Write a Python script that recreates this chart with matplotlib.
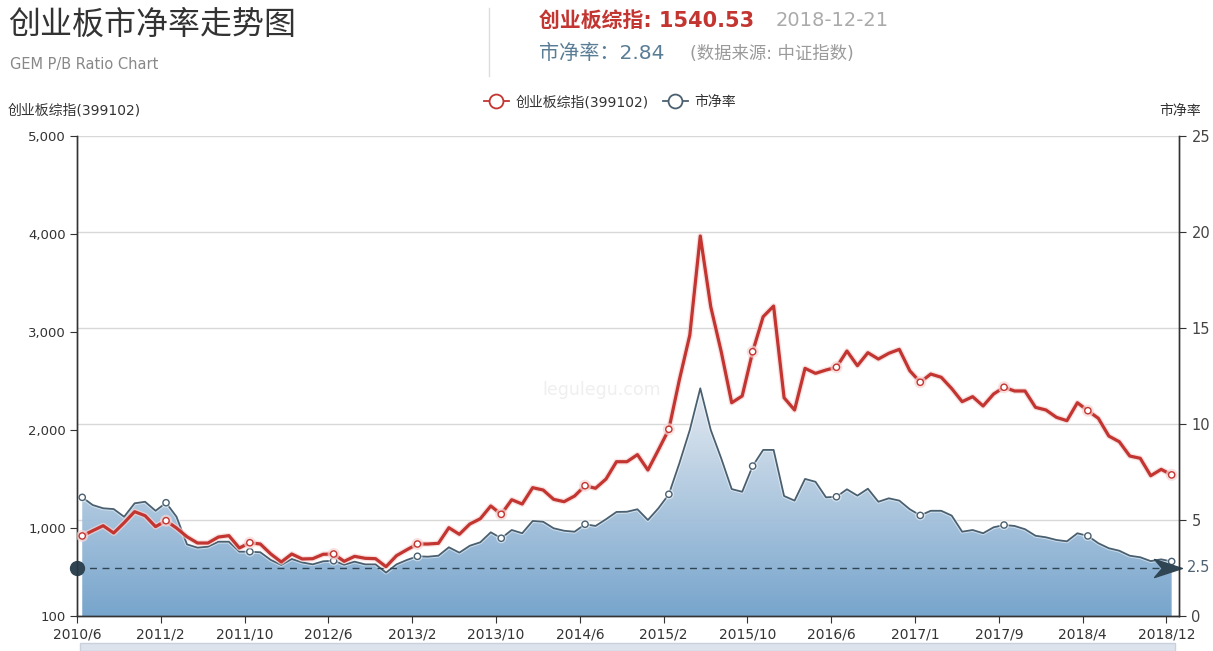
import numpy as np
import matplotlib
matplotlib.use("Agg")
import matplotlib.pyplot as plt
import matplotlib.patheffects as pe
from matplotlib.colors import LinearSegmentedColormap
from matplotlib.lines import Line2D
from matplotlib.path import Path
from matplotlib.patches import Rectangle
import matplotlib.transforms as mtransforms

plt.rcParams['font.family'] = ['DejaVu Sans', 'Noto Sans CJK SC']

# monthly closes of the GEM composite index (399102), 2010/6 .. 2018/12
gem_index = [917, 971, 1022, 947, 1052, 1165, 1124, 1012, 1073, 998,
             909, 845, 845, 906, 920, 794, 848, 835, 733, 651,
             733, 682, 685, 730, 733, 658, 709, 689, 685, 603,
             716, 777, 835, 835, 842, 1001, 934, 1039, 1093, 1223,
             1138, 1287, 1243, 1410, 1386, 1291, 1267, 1325, 1430, 1404,
             1498, 1675, 1675, 1747, 1590, 1795, 2006, 2509, 2968, 3979,
             3257, 2798, 2277, 2346, 2798, 3155, 3264, 2328, 2203, 2628,
             2577, 2611, 2639, 2805, 2655, 2788, 2723, 2782, 2822, 2604,
             2486, 2570, 2537, 2422, 2288, 2339, 2244, 2366, 2435, 2397,
             2397, 2230, 2203, 2128, 2094, 2277, 2196, 2118, 1937, 1879,
             1733, 1710, 1532, 1597, 1540.53]

# price-to-book ratio
pb_ratio = [6.18, 5.78, 5.61, 5.57, 5.17, 5.87, 5.95, 5.48, 5.90, 5.17,
            3.73, 3.56, 3.61, 3.87, 3.87, 3.35, 3.35, 3.32, 2.92, 2.66,
            2.97, 2.79, 2.69, 2.85, 2.88, 2.67, 2.83, 2.69, 2.69, 2.26,
            2.69, 2.92, 3.11, 3.09, 3.14, 3.58, 3.30, 3.66, 3.84, 4.36,
            4.05, 4.48, 4.31, 4.95, 4.91, 4.57, 4.44, 4.39, 4.78, 4.69,
            5.04, 5.42, 5.43, 5.56, 5.00, 5.61, 6.34, 7.95, 9.69, 11.86,
            9.69, 8.21, 6.61, 6.47, 7.81, 8.65, 8.65, 6.25, 6.01, 7.14,
            6.99, 6.18, 6.21, 6.60, 6.27, 6.63, 5.95, 6.13, 6.01, 5.56,
            5.24, 5.48, 5.48, 5.23, 4.39, 4.48, 4.31, 4.62, 4.74, 4.69,
            4.52, 4.18, 4.10, 3.96, 3.89, 4.31, 4.17, 3.79, 3.53, 3.40,
            3.14, 3.06, 2.86, 2.95, 2.84]

tick_labels = ['2010/6', '2011/2', '2011/10', '2012/6', '2013/2', '2013/10',
               '2014/6', '2015/2', '2015/10', '2016/6', '2017/1', '2017/9',
               '2018/4', '2018/12']
left_ticks = [100, 1000, 2000, 3000, 4000, 5000]
right_ticks = [0, 5, 10, 15, 20, 25]
pb_mark = 2.5

RED = '#c23531'
SLATE = '#4a6070'
W, H = 1213, 651


def fx(x):
    return x / W


def fy(y):
    return 1 - y / H


fig = plt.figure(figsize=(W / 100, H / 100), dpi=100)
fig.patch.set_facecolor('white')

ax = fig.add_axes([fx(77), fy(616), (1179 - 77) / W, 480 / H])
ax2 = ax.twinx()
ax.set_zorder(ax2.get_zorder() + 1)
ax.patch.set_visible(False)

x = np.arange(len(gem_index))
pb = np.array(pb_ratio)

# area with vertical gradient, clipped to the P/B polygon
poly = ax2.fill_between(x, pb, 0, facecolor='none', edgecolor='none')
cmap = LinearSegmentedColormap.from_list('pbfill', ['#70a0ca', '#e4eaf1'])
grad = np.linspace(0, 1, 256).reshape(-1, 1)
im = ax2.imshow(grad, extent=[x[0], x[-1], 0, pb.max()], origin='lower',
                cmap=cmap, aspect='auto', zorder=1, alpha=0.95)
im.set_clip_path(poly.get_paths()[0], transform=ax2.transData)

ax2.plot(x, pb, color=SLATE, lw=1.3, zorder=3,
         marker='o', markevery=8, markersize=4.5, markerfacecolor='white',
         markeredgecolor=SLATE, markeredgewidth=1.0,
         path_effects=[pe.Stroke(linewidth=2.8, foreground='white', alpha=0.5), pe.Normal()])

# mark line at P/B 2.5
blend = mtransforms.blended_transform_factory(ax2.transAxes, ax2.transData)
ax2.plot([0, 0.985], [pb_mark, pb_mark], transform=blend, color='#2f4554',
         lw=1, dashes=(5, 4), zorder=4, clip_on=False)
ax2.plot([0], [pb_mark], transform=blend, marker='o', markersize=10,
         color='#2f4554', zorder=5, clip_on=False)
arrow = Path([(1, 0), (-1, 0.65), (-0.45, 0), (-1, -0.65), (1, 0)],
             [Path.MOVETO, Path.LINETO, Path.LINETO, Path.LINETO, Path.CLOSEPOLY])
ax2.plot([0.99], [pb_mark], transform=blend, marker=arrow, markersize=20,
         color='#2f4554', zorder=5, clip_on=False)
ax2.text(1.0075, pb_mark, '2.5', transform=blend, va='center', ha='left',
         fontsize=10.5, color='#4f6272')

ax.plot(x, gem_index, color=RED, lw=2.3, zorder=6,
        marker='o', markevery=8, markersize=4.5, markerfacecolor='white',
        markeredgecolor=RED, markeredgewidth=1.0,
        path_effects=[pe.Stroke(linewidth=4.2, foreground='#f6d6d5', alpha=0.7), pe.Normal()])

ax.text(0.476, 0.471, 'legulegu.com', transform=ax.transAxes, fontsize=12.5,
        color='#efefef', ha='center', va='center', zorder=0)

# axes styling
ax.set_xlim(-0.5, 104.7)
ax.set_ylim(100, 5000)
ax2.set_ylim(0, 25)
ax2.set_xlim(-0.5, 104.7)

ax.set_yticks(left_ticks)
ax.set_yticklabels([f'{v:,}' for v in left_ticks])
ax2.set_yticks(right_ticks)
ax2.set_yticklabels([str(v) for v in right_ticks])
ax.set_xticks(np.arange(0, len(gem_index), 8) - 0.5)
ax.set_xticklabels(tick_labels)

ax2.yaxis.grid(True, color='#d8d8d8', lw=1)
ax2.set_axisbelow(True)

for a in (ax, ax2):
    a.spines['top'].set_visible(False)
    for s in ('left', 'right', 'bottom'):
        a.spines[s].set_color('#333333')
        a.spines[s].set_linewidth(1)
ax.tick_params(axis='y', length=5, color='#333333', labelsize=9.5, labelcolor='#333333', pad=3)
ax.tick_params(axis='x', length=5, color='#333333', labelsize=10, labelcolor='#333333', pad=3)
ax2.tick_params(axis='y', length=5, color='#333333', labelsize=10.5, labelcolor='#444444', pad=4)

# header
fig.text(fx(8), fy(25), '创业板市净率走势图', fontsize=23, color='#333333', va='center', ha='left')
fig.text(fx(10), fy(64), 'GEM P/B Ratio Chart', fontsize=10.5, color='#888888', va='center', ha='left')
fig.add_artist(Line2D([fx(489), fx(489)], [fy(8), fy(76)], color='#dddddd', lw=1))
fig.text(fx(539), fy(21), '创业板综指: 1540.53', fontsize=15, fontweight='bold', color=RED, va='center', ha='left')
fig.text(fx(776), fy(21), '2018-12-21', fontsize=14, color='#aaaaaa', va='center', ha='left')
fig.text(fx(539), fy(53), '市净率：2.84', fontsize=14.5, color='#5a7d96', va='center', ha='left')
fig.text(fx(690), fy(54), '(数据来源: 中证指数)', fontsize=12.5, color='#9a9a9a', va='center', ha='left')

fig.text(fx(8), fy(111), '创业板综指(399102)', fontsize=10, color='#333333', va='center', ha='left')
fig.text(fx(1201), fy(111), '市净率', fontsize=10, color='#333333', va='center', ha='right')

handles = [Line2D([], [], color=RED, lw=1.3, marker='o', markersize=10,
                  markerfacecolor='white', markeredgecolor=RED, markeredgewidth=1.3),
           Line2D([], [], color=SLATE, lw=1.3, marker='o', markersize=10,
                  markerfacecolor='white', markeredgecolor=SLATE, markeredgewidth=1.3)]
fig.legend(handles, ['创业板综指(399102)', '市净率'], loc='center',
           bbox_to_anchor=(fx(610), fy(102)), ncol=2, frameon=False,
           fontsize=10, handlelength=1.8, handletextpad=0.5, columnspacing=1.0,
           labelcolor='#333333')

# data zoom slider strip at the bottom
fig.add_artist(Rectangle((fx(80), 0), (1175 - 80) / W, 8 / H, transform=fig.transFigure,
                         facecolor='#dde3ec', edgecolor='#c9d1dd', lw=1))

fig.savefig('out.png', dpi=100, facecolor='white')
